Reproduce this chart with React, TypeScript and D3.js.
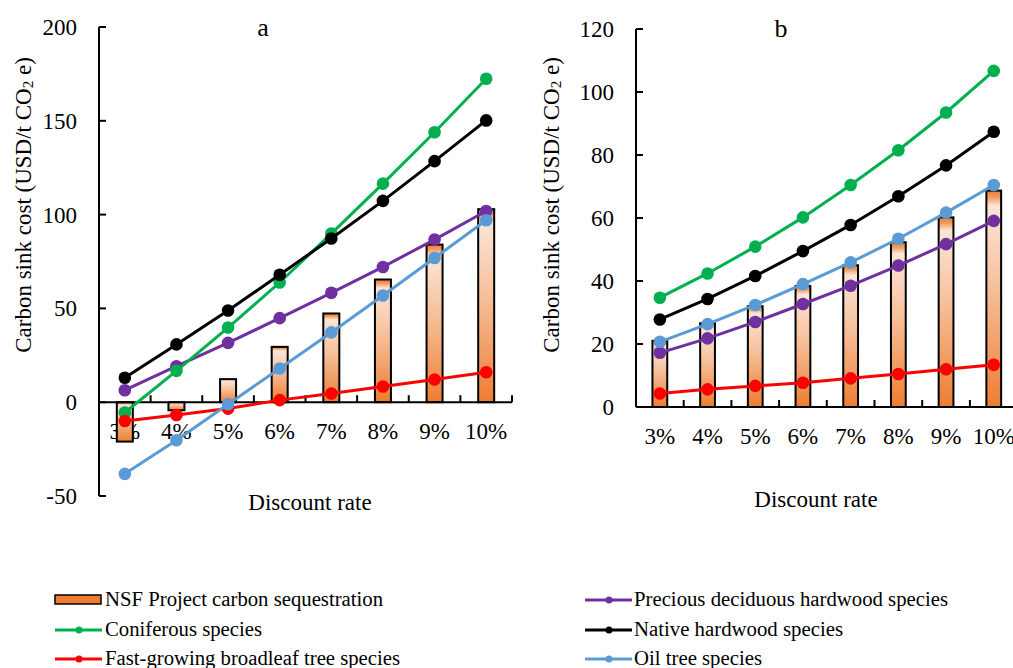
import React from "react";
import * as d3 from "d3";

const categories = ["3%", "4%", "5%", "6%", "7%", "8%", "9%", "10%"];

// Panel a
const barsA = [-21, -4.3, 12.3, 29.5, 47.3, 65.4, 84, 102.9];
const preciousA = [6.4, 19.2, 31.6, 44.8, 58.3, 72.1, 86.7, 101.9];
const coniferousA = [-5.5, 16.7, 39.8, 63.8, 89.9, 116.5, 143.9, 172.4];
const nativeA = [13, 30.8, 48.9, 67.9, 87.3, 107.3, 128.5, 150.2];
const fastA = [-10, -6.8, -3.4, 1.1, 4.6, 8.4, 12.1, 16];
const oilA = [-38.2, -20.3, -1.1, 18, 37.2, 56.9, 76.9, 97];
const ticksA = [-50, 0, 50, 100, 150, 200];

// Panel b
const barsB = [21, 26.6, 32, 38.4, 45, 52.3, 60.2, 68.7];
const preciousB = [17.2, 21.8, 27, 32.7, 38.5, 44.9, 51.7, 59.1];
const coniferousB = [34.7, 42.4, 50.9, 60.2, 70.5, 81.5, 93.5, 106.7];
const nativeB = [27.8, 34.3, 41.6, 49.5, 57.8, 66.9, 76.7, 87.4];
const fastB = [4.3, 5.6, 6.7, 7.7, 9.1, 10.5, 12, 13.4];
const oilB = [20.7, 26.3, 32.4, 39, 45.9, 53.4, 61.7, 70.5];
const ticksB = [0, 20, 40, 60, 80, 100, 120];

const seriesNames = [
  "Precious deciduous hardwood species",
  "Coniferous species",
  "Native hardwood species",
  "Fast-growing broadleaf tree species",
  "Oil tree species",
];
const seriesColors = ["#7030A0", "#00B050", "#000000", "#FF0000", "#5B9BD5"];
const barName = "NSF Project carbon sequestration";

const FONT = "Liberation Serif";

type PanelProps = {
  label: string;
  x0: number;
  x1: number;
  yTop: number;
  yBottom: number;
  domain: [number, number];
  ticks: number[];
  bars: number[];
  lines: number[][];
  labelY: number;
  titleX: number;
  yTitleX: number;
  xTitleX: number;
  xTitleY: number;
};

function Panel(p: PanelProps) {
  const x = d3.scaleBand<string>().domain(categories).range([p.x0, p.x1]).padding(0);
  const y = d3.scaleLinear().domain(p.domain).range([p.yBottom, p.yTop]);
  const y0 = y(0);
  const bw = x.bandwidth() * 0.31;
  const cx = (c: string) => (x(c) as number) + x.bandwidth() / 2;
  const lineGen = d3
    .line<number>()
    .x((_, i) => cx(categories[i]))
    .y((v) => y(v));
  return (
    <g>
      {categories.map((c) => (
        <text key={c} x={cx(c)} y={y0 + 37} textAnchor="middle" fontFamily={FONT} fontSize={23} fill="#000">
          {c}
        </text>
      ))}
      {p.bars.map((v, i) => {
        const c = categories[i];
        const top = Math.min(y(v), y0);
        const h = Math.abs(y(v) - y0);
        return (
          <rect
            key={c}
            x={cx(c) - bw / 2}
            y={top}
            width={bw}
            height={h}
            fill="url(#barGrad)"
            stroke="#000"
            strokeWidth={2}
          />
        );
      })}
      <line x1={p.x0} x2={p.x0} y1={p.yTop} y2={p.yBottom} stroke="#000" strokeWidth={2} />
      <line x1={p.x0} x2={p.x1} y1={y0} y2={y0} stroke="#000" strokeWidth={2} />
      {p.ticks.map((t) => (
        <g key={t}>
          <line x1={p.x0} x2={p.x0 + 7} y1={y(t)} y2={y(t)} stroke="#000" strokeWidth={2} />
          <text x={p.x0 - 22} y={y(t) + 8} textAnchor="end" fontFamily={FONT} fontSize={23} fill="#000">
            {t}
          </text>
        </g>
      ))}
      {categories.map((c, i) => {
        const bx = (x(c) as number) + x.bandwidth();
        return <line key={"t" + i} x1={bx} x2={bx} y1={y0} y2={y0 - 7} stroke="#000" strokeWidth={2} />;
      })}
      {p.lines.map((vals, si) => (
        <g key={si}>
          <path d={lineGen(vals) || ""} fill="none" stroke={seriesColors[si]} strokeWidth={3} />
          {vals.map((v, i) => (
            <circle key={i} cx={cx(categories[i])} cy={y(v)} r={6.3} fill={seriesColors[si]} />
          ))}
        </g>
      ))}
      <text x={p.titleX} y={p.labelY} textAnchor="middle" fontFamily={FONT} fontSize={26} fill="#000">
        {p.label}
      </text>
      <text
        transform={`translate(${p.yTitleX},${205}) rotate(-90)`}
        textAnchor="middle"
        fontFamily={FONT}
        fontSize={23}
        fill="#000"
        dominantBaseline="middle"
      >
        Carbon sink cost (USD/t CO
        <tspan fontSize={15} dy={4}>
          2
        </tspan>
        <tspan dy={-4}> e)</tspan>
      </text>
      <text x={p.xTitleX} y={p.xTitleY} textAnchor="middle" fontFamily={FONT} fontSize={23} fill="#000">
        Discount rate
      </text>
    </g>
  );
}

export default function App() {
  const legendLeft = [
    { name: barName, kind: "bar", color: "#ED7D31", len: 278 },
    { name: seriesNames[1], kind: "line", color: seriesColors[1], len: 157 },
    { name: seriesNames[3], kind: "line", color: seriesColors[3], len: 295 },
  ];
  const legendRight = [
    { name: seriesNames[0], kind: "line", color: seriesColors[0], len: 314 },
    { name: seriesNames[2], kind: "line", color: seriesColors[2], len: 209 },
    { name: seriesNames[4], kind: "line", color: seriesColors[4], len: 128 },
  ];
  const rowsY = [600, 630, 659];
  const renderLegend = (items: typeof legendLeft, lx: number, tx: number) =>
    items.map((it, i) => {
      const yy = rowsY[i];
      return (
        <g key={it.name}>
          {it.kind === "bar" ? (
            <rect x={lx} y={yy - 5} width={46} height={9} fill="#ED7D31" stroke="#000" strokeWidth={1.5} />
          ) : (
            <g>
              <line x1={lx} x2={lx + 47} y1={yy} y2={yy} stroke={it.color} strokeWidth={3} />
              <circle cx={lx + 24} cy={yy} r={3.5} fill={it.color} />
            </g>
          )}
          <text
            x={tx}
            y={yy + 6}
            fontFamily={FONT}
            fontSize={20}
            fill="#000"
            textLength={it.len}
            lengthAdjust="spacingAndGlyphs"
          >
            {it.name}
          </text>
        </g>
      );
    });

  return (
    <svg width={1013} height={668} style={{ position: "absolute", left: 0, top: 0, background: "#fff" }}>
      <defs>
        <linearGradient id="barGrad" x1="0" y1="0" x2="0" y2="1">
          <stop offset="0" stopColor="#ED7D31" />
          <stop offset="0.03" stopColor="#F19A5E" />
          <stop offset="0.07" stopColor="#FBE5D6" />
          <stop offset="0.45" stopColor="#F6C09B" />
          <stop offset="1" stopColor="#ED7D31" />
        </linearGradient>
      </defs>
      <rect x={0} y={0} width={1013} height={668} fill="#fff" />
      <Panel
        label="a"
        x0={99}
        x1={512}
        yTop={27}
        yBottom={496}
        domain={[-50, 200]}
        ticks={ticksA}
        bars={barsA}
        lines={[preciousA, coniferousA, nativeA, fastA, oilA]}
        labelY={36}
        titleX={263}
        yTitleX={26}
        xTitleX={310}
        xTitleY={510}
      />
      <Panel
        label="b"
        x0={636}
        x1={1017.6}
        yTop={29}
        yBottom={407}
        domain={[0, 120]}
        ticks={ticksB}
        bars={barsB}
        lines={[preciousB, coniferousB, nativeB, fastB, oilB]}
        labelY={37}
        titleX={781}
        yTitleX={554}
        xTitleX={816}
        xTitleY={507}
      />
      {renderLegend(legendLeft, 55, 105)}
      {renderLegend(legendRight, 585, 634)}
    </svg>
  );
}
